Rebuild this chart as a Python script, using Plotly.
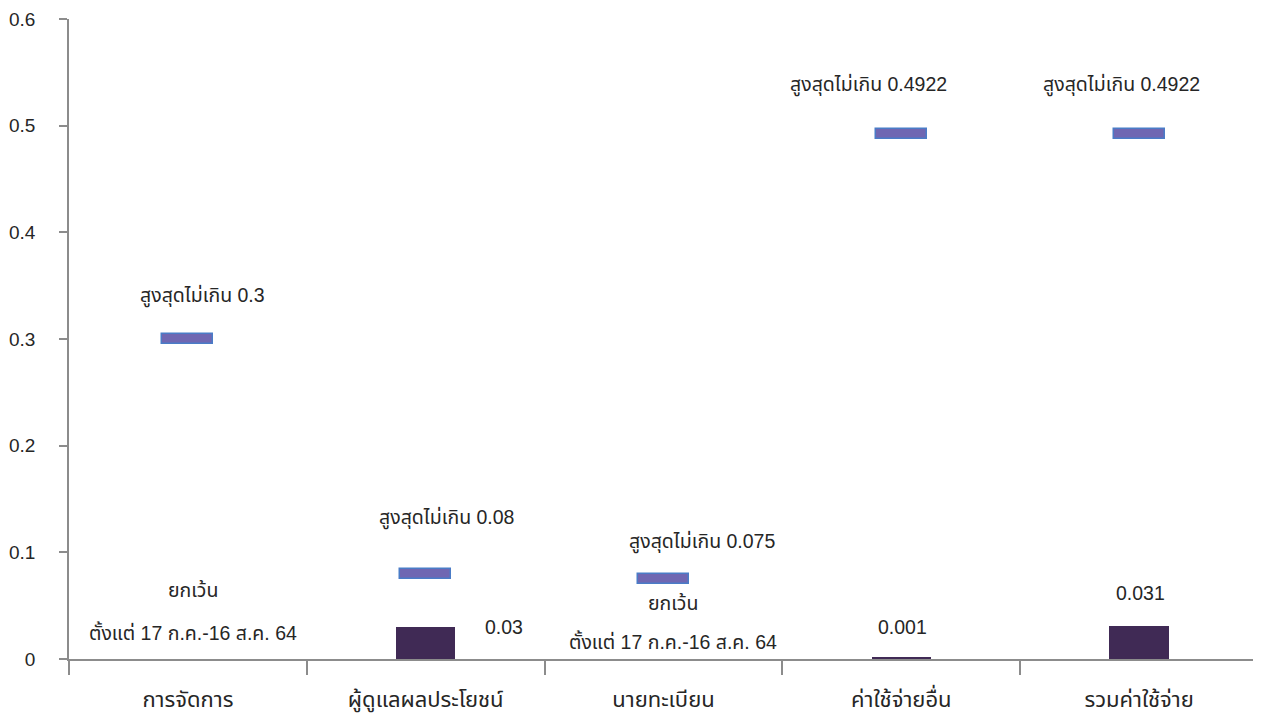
import plotly.graph_objects as go

categories = ["การจัดการ", "ผู้ดูแลผลประโยชน์", "นายทะเบียน", "ค่าใช้จ่ายอื่น", "รวมค่าใช้จ่าย"]
actual_values = [0, 0.03, 0, 0.001, 0.031]
max_values = [0.3, 0.08, 0.075, 0.4922, 0.4922]
max_labels = ["สูงสุดไม่เกิน 0.3", "สูงสุดไม่เกิน 0.08", "สูงสุดไม่เกิน 0.075",
              "สูงสุดไม่เกิน 0.4922", "สูงสุดไม่เกิน 0.4922"]
actual_labels = [None, "0.03", None, "0.001", "0.031"]
exempt_line1 = "ยกเว้น"
exempt_line2 = "ตั้งแต่ 17 ก.ค.-16 ส.ค. 64"
exempt_idx = [0, 2]
y_ticks = [0, 0.1, 0.2, 0.3, 0.4, 0.5, 0.6]
y_tick_text = ["0", "0.1", "0.2", "0.3", "0.4", "0.5", "0.6"]

FONT = "Liberation Sans, Arial, Noto Sans Thai, Noto Sans, sans-serif"
TXT = "#262626"
ANN = 19.5
marker_h = 0.0094

fig = go.Figure()
fig.add_trace(go.Bar(
    x=categories, y=actual_values, width=0.25,
    marker=dict(color="#402a55", line=dict(width=0)),
    showlegend=False, hoverinfo="x+y",
))
fig.add_trace(go.Bar(
    x=categories, y=[marker_h] * len(max_values),
    base=[v - marker_h / 2 for v in max_values], width=0.215,
    marker=dict(color="#6f67b2", line=dict(color="#4a7cc7", width=1.5)),
    showlegend=False, hoverinfo="x",
))

max_shift_x = [15, 21, 38, -33, -18]
max_shift_y = [43, 56, 37, 49, 49]
for i, (c, v, t) in enumerate(zip(categories, max_values, max_labels)):
    fig.add_annotation(x=c, y=v, text=t, showarrow=False, xshift=max_shift_x[i],
                       yshift=max_shift_y[i], font=dict(size=ANN, color=TXT, family=FONT))

ex_shift = {0: (5, 69, 27), 2: (9, 56, 18)}
for i in exempt_idx:
    dx, y1, y2 = ex_shift[i]
    fig.add_annotation(x=categories[i], y=0, text=exempt_line1, showarrow=False,
                       xshift=dx, yshift=y1, font=dict(size=ANN, color=TXT, family=FONT))
    fig.add_annotation(x=categories[i], y=0, text=exempt_line2, showarrow=False,
                       xshift=dx, yshift=y2, font=dict(size=ANN, color=TXT, family=FONT))

act_shift = {1: (78, 0), 3: (1, 31), 4: (1, 33)}
for i, t in enumerate(actual_labels):
    if t is None:
        continue
    dx, dy = act_shift[i]
    fig.add_annotation(x=categories[i], y=actual_values[i], text=t, showarrow=False,
                       xshift=dx, yshift=dy, font=dict(size=ANN, color=TXT, family=FONT))

fig.update_layout(
    width=1261, height=715, barmode="overlay", bargap=0,
    margin=dict(l=61, r=11, t=11, b=64, autoexpand=False),
    plot_bgcolor="white", paper_bgcolor="white",
    font=dict(family=FONT, color=TXT, size=18),
    xaxis=dict(type="category", categoryorder="array", categoryarray=categories,
               range=[-0.5, 4.5], showline=True, linecolor="#8c8c8c", linewidth=1.5,
               ticks="outside", tickson="boundaries", ticklen=14, tickcolor="#8c8c8c",
               tickwidth=1.5, showgrid=False, tickfont=dict(size=22, color=TXT),
               ticklabelstandoff=20, automargin=False),
    yaxis=dict(range=[0, 0.6], tickvals=y_ticks, ticktext=y_tick_text,
               showline=True, linecolor="#8c8c8c", linewidth=1.5,
               ticks="outside", ticklen=8, tickcolor="#8c8c8c", tickwidth=1.5,
               showgrid=False, zeroline=False, tickfont=dict(size=19, color=TXT),
               ticklabelstandoff=20, automargin=False, ticklabeloverflow="allow"),
)

fig.write_html("out.html")
